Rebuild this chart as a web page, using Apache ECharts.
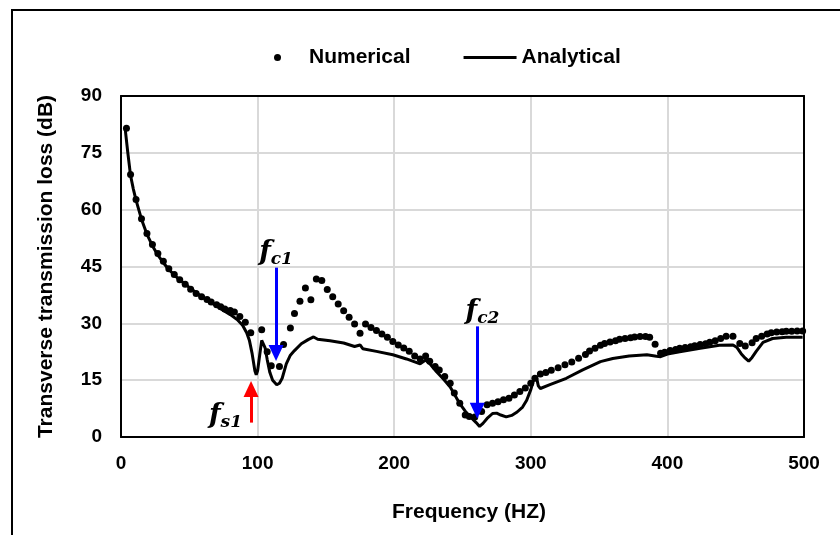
<!DOCTYPE html>
<html>
<head>
<meta charset="utf-8">
<script src="https://cdn.jsdelivr.net/npm/echarts@6/dist/echarts.min.js"></script>
<style>html,body{margin:0;padding:0;background:#fff}#c{width:840px;height:535px}</style>
</head>
<body>
<div id="c"></div>
<script>
// Numerical (scatter) data
const numFreq = [4,7,11,15,19,23,27,31,35,39,43,47,51,55,59,63,66,70,73,76,80,83,87,91,95,103,107,110,116,119,124,127,131,135,139,143,147,151,155,159,163,167,171,175,179,183,187,191,195,199,203,207,211,215,219,223,226,230,233,237,241,244,248,252,255,259,264,268,272,276,280,284,288,292,296,300,303,307,311,315,320,325,330,335,340,343,347,351,354,358,362,365,369,373,376,380,384,387,391,395,398,402,406,409,413,417,420,424,428,431,435,439,443,448,453,457,462,465,469,473,476,480,484,487,491,495,499];
const numLoss = [81.5,69.3,62.7,57.6,53.7,50.8,48.4,46.4,44.4,42.9,41.5,40.3,39.0,37.9,37.0,36.3,35.6,34.9,34.4,33.8,33.4,33.0,31.8,30.3,27.5,28.3,22.5,18.8,18.6,24.4,28.8,32.6,35.8,39.3,36.2,41.7,41.3,38.9,37.0,35.1,33.3,31.6,29.8,27.4,29.8,28.9,28.1,27.2,26.3,25.2,24.3,23.5,22.6,21.4,20.6,21.4,20.0,18.6,17.7,16.0,14.2,11.6,8.9,5.8,5.4,5.3,6.7,8.5,8.9,9.3,9.8,10.2,11.1,12.0,12.9,14.2,15.5,16.6,17.0,17.6,18.3,19.1,19.8,20.8,21.8,22.7,23.4,24.2,24.7,25.1,25.4,25.8,26.0,26.2,26.4,26.5,26.5,26.3,24.5,22.1,22.4,22.8,23.1,23.4,23.6,23.8,24.1,24.4,24.6,25.0,25.4,26.0,26.6,26.6,24.7,24.0,24.9,26.0,26.6,27.2,27.5,27.7,27.8,27.9,27.9,28.0,28.0];

// Analytical (line) data
const anaFreq = [3,5,7,9,11,15,19,23,27,31,35,40,45,50,55,60,65,70,75,80,85,89,92,94,96,98,99,100,101.5,103,104,105.5,107,109,111,114,116,118,121,124,127,132,137,141,144,153,163,171,175,177,187,199,209,219,223,226,231,236,241,245,248,252,256,260,262.5,265,268,272,275,278,282,286,290,294,297,300,302,304,305.5,307,314,326,338,351,360,372,385,392,395,400,409,424,438,448,451,454,457,459.5,462,465,470,477,487,499];
const anaLoss = [81.5,75.0,69.0,65.5,62.5,57.5,53.5,50.5,48.0,46.0,44.2,42.4,40.9,39.5,38.1,36.9,35.7,34.6,33.4,32.3,31.0,29.5,27.5,25.5,22.0,17.5,16.4,17.5,21.5,25.5,25.3,23.5,20.5,17.0,15.0,13.8,14.2,15.5,19.3,21.6,22.8,24.6,25.7,26.4,25.8,25.4,24.8,23.9,24.3,23.3,22.6,21.7,20.6,19.3,20.3,19.4,17.2,15.3,13.2,10.7,8.8,6.8,5.2,3.8,2.8,3.6,4.9,6.2,6.3,5.8,5.3,5.7,6.6,7.9,9.7,12.5,15.0,16.0,13.5,12.8,13.8,15.5,17.7,19.9,20.7,21.4,21.7,21.3,21.2,21.9,22.5,23.4,24.2,24.3,23.6,22.0,20.8,20.0,21.0,22.6,25.0,26.0,26.3,26.3];

const xTicks = [0,100,200,300,400,500];
const yTicks = [0,15,30,45,60,75,90];

// Annotation arrows (frequency, from dB, to dB) and labels
const arrowFreq = [113.5, 95.2, 260.8];
const arrowFrom = [44.7, 3.8, 29.2];
const arrowTo = [22.2, 12.7, 6.9];
const arrowColor = ['#0000ff', '#ff0000', '#0000ff'];
const labelSub = ['c1', 's1', 'c2'];
const labelFreq = [113.5, 76.5, 264.6];
const labelLoss = [48.5, 5.6, 33.1];

const FONT = "'Liberation Sans', Arial, sans-serif";
const SERIF = "'DejaVu Serif', 'Liberation Serif', serif";
const numData = numFreq.map((f, i) => [f, numLoss[i]]);
const anaData = anaFreq.map((f, i) => [f, anaLoss[i]]);

const frameAxis = {
  axisLine: {show: true, onZero: false, lineStyle: {color: '#000', width: 2}},
  axisTick: {show: false}, axisLabel: {show: false}, splitLine: {show: false}
};

const chart = echarts.init(document.getElementById('c'), null, {renderer: 'canvas'});
chart.setOption({
  backgroundColor: '#fff',
  animation: false,
  textStyle: {fontFamily: FONT},
  graphic: [{
    type: 'rect', silent: true, z: 100,
    shape: {x: 12, y: 10, width: 900, height: 700},
    style: {fill: 'none', stroke: '#000', lineWidth: 2}
  }],
  legend: {
    left: 269, top: 42,
    itemWidth: 53, itemHeight: 7, itemGap: 53,
    textStyle: {fontSize: 21, fontWeight: 'bold', color: '#000', fontFamily: FONT},
    data: [
      {name: 'Numerical', icon: 'circle'},
      {name: 'Analytical', icon: 'path://M0,0 L53,0 L53,3 L0,3 Z'}
    ]
  },
  grid: {left: 121, top: 96, right: 36, bottom: 98, show: false},
  xAxis: [{
    type: 'value', min: xTicks[0], max: xTicks[xTicks.length - 1], interval: 100, position: 'bottom',
    name: 'Frequency (HZ)', nameLocation: 'middle', nameGap: 65,
    nameTextStyle: {fontSize: 21, fontWeight: 'bold', color: '#000', fontFamily: FONT, padding: [0, 0, 0, 13]},
    axisLine: {show: true, onZero: false, lineStyle: {color: '#000', width: 2}}, axisTick: {show: false},
    axisLabel: {fontSize: 19, fontWeight: 'bold', color: '#000', margin: 17, fontFamily: FONT},
    splitLine: {show: true, lineStyle: {color: '#d9d9d9', width: 2}}
  }, Object.assign({type: 'value', min: 0, max: 500, position: 'top'}, frameAxis)],
  yAxis: [{
    type: 'value', min: yTicks[0], max: yTicks[yTicks.length - 1], interval: 15, position: 'left',
    name: 'Transverse transmission loss (dB)', nameLocation: 'middle', nameGap: 64, nameRotate: 90,
    nameTextStyle: {fontSize: 21, fontWeight: 'bold', color: '#000', fontFamily: FONT},
    axisLine: {show: true, onZero: false, lineStyle: {color: '#000', width: 2}}, axisTick: {show: false},
    axisLabel: {fontSize: 19, fontWeight: 'bold', color: '#000', margin: 19, fontFamily: FONT},
    splitLine: {show: true, lineStyle: {color: '#d9d9d9', width: 2}}
  }, Object.assign({type: 'value', min: 0, max: 90, position: 'right'}, frameAxis)],
  series: [
    {
      name: 'Analytical', type: 'line', data: anaData, showSymbol: false, symbol: 'none',
      lineStyle: {color: '#000', width: 3}, itemStyle: {color: '#000'}, z: 2, silent: true
    },
    {
      name: 'Numerical', type: 'scatter', data: numData, symbol: 'circle', symbolSize: 7,
      itemStyle: {color: '#000', opacity: 1}, z: 3, silent: true,
      markLine: {
        silent: true, animation: false,
        symbol: ['none', 'triangle'], symbolSize: [15, 16],
        label: {show: false},
        data: arrowFreq.map((f, i) => [
          {coord: [f, arrowFrom[i]], lineStyle: {color: arrowColor[i], width: 3, type: 'solid'}, itemStyle: {color: arrowColor[i]}},
          {coord: [f, arrowTo[i]]}
        ])
      },
      markPoint: {
        silent: true, animation: false,
        symbol: 'circle', symbolSize: 1, itemStyle: {color: 'rgba(0,0,0,0)'},
        label: {
          show: true, position: 'inside',
          formatter: p => '{f|f}{s|' + p.name + '}',
          rich: {
            f: {fontFamily: SERIF, fontStyle: 'italic', fontWeight: 'bold', fontSize: 27, color: '#000', lineHeight: 30, verticalAlign: 'middle'},
            s: {fontFamily: SERIF, fontStyle: 'italic', fontWeight: 'bold', fontSize: 17, color: '#000', lineHeight: 30, verticalAlign: 'bottom'}
          }
        },
        data: labelSub.map((s, i) => ({name: s, coord: [labelFreq[i], labelLoss[i]]}))
      }
    }
  ]
});
</script>
</body>
</html>
